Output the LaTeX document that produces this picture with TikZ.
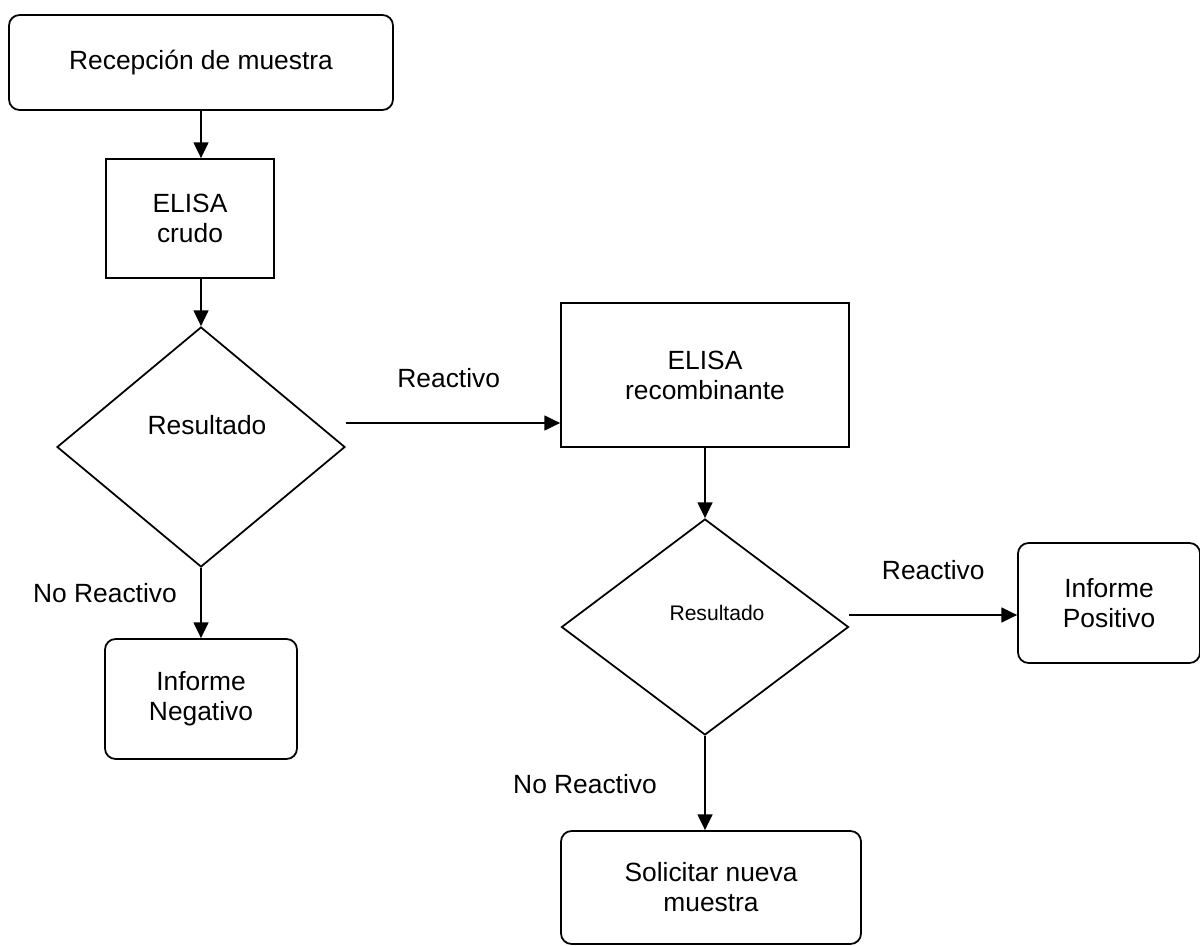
\documentclass[tikz,border=0pt]{standalone}
\usepackage{fontspec}
\setmainfont{Liberation Sans}
\usetikzlibrary{positioning,arrows.meta,shapes.geometric}

\begin{document}
\begin{tikzpicture}[
  font=\fontsize{15}{17}\selectfont,
  caja/.style={draw, line width=1pt, align=center, inner sep=0pt},
  redondo/.style={caja, rounded corners=6pt},
  rombo/.style={draw, diamond, line width=1pt, inner sep=0pt},
  arr/.style={-{Triangle[length=9pt, width=8.5pt]}, line width=1pt},
  lbl/.style={font=\fontsize{15}{17}\selectfont, inner sep=0pt}
]
  \useasboundingbox (0,0) rectangle (24,-18.92);

  \node[redondo, minimum width=7.68cm, minimum height=1.9cm] (recep) at (4.02,-1.25) {Recepción de muestra};
  \node[caja, minimum width=3.36cm, minimum height=2.38cm] (crudo) at (3.80,-4.37) {ELISA\\crudo};
  \node[rombo, minimum width=5.76cm, minimum height=4.8cm,
        label={[lbl, xshift=0.12cm, yshift=0.44cm]center:Resultado}] (res1) at (4.02,-8.94) {};
  \node[caja, minimum width=5.76cm, minimum height=2.88cm] (recomb) at (14.10,-7.50) {ELISA\\recombinante};
  \node[rombo, minimum width=5.74cm, minimum height=4.32cm,
        label={[lbl, font=\fontsize{12}{14}\selectfont, xshift=0.24cm, yshift=0.28cm]center:Resultado}] (res2) at (14.10,-12.54) {};
  \node[redondo, minimum width=3.84cm, minimum height=2.4cm] (neg) at (4.02,-13.98) {Informe\\Negativo};
  \node[redondo, minimum width=3.64cm, minimum height=2.4cm] (pos) at (22.18,-12.06) {Informe\\Positivo};
  \node[redondo, minimum width=6.0cm, minimum height=2.26cm] (nueva) at (14.22,-17.75) {Solicitar nueva\\muestra};

  % flujo principal
  \draw[arr] (recep.south) -- (recep.south |- crudo.north);
  \draw[arr] (crudo.south -| res1.north) -- (res1.north);
  \draw[arr] ([yshift=0.48cm]res1.east) -- node[lbl, pos=0.48, yshift=0.9cm]{Reactivo} ([yshift=0.48cm]res1.east -| recomb.west);
  \draw[arr] (recomb.south -| res2.north) -- (res2.north);
  \draw[arr] ([yshift=0.24cm]res2.east) -- node[lbl, pos=0.5, yshift=0.9cm]{Reactivo} ([yshift=0.24cm]res2.east -| pos.west);
  % ramas no reactivas
  \draw[arr] (res1.south) -- node[lbl, pos=0.36, xshift=-1.92cm]{No Reactivo} (neg.north);
  \draw[arr] (res2.south) -- node[lbl, pos=0.51, xshift=-2.4cm]{No Reactivo} (res2.south |- nueva.north);
\end{tikzpicture}
\end{document}
